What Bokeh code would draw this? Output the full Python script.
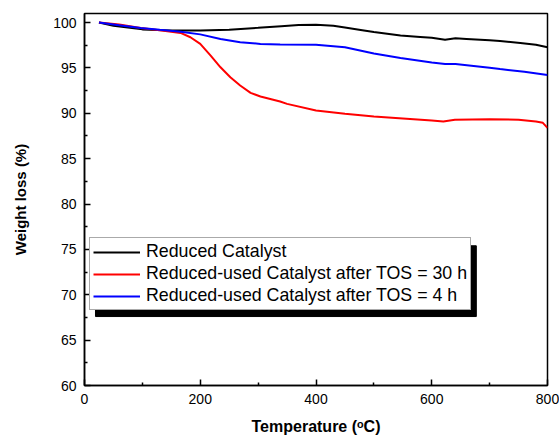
from bokeh.plotting import figure
from bokeh.models import Legend, LegendItem, Range1d, FixedTicker, BoxAnnotation
from bokeh.embed import file_html
from bokeh.resources import INLINE

# Reduced Catalyst
t_black = [25, 50, 100, 150, 200, 250, 270, 300, 340, 370, 400, 430, 450, 480, 500, 546, 580, 600, 623, 641, 660, 700, 718, 753, 780, 800]
w_black = [100, 99.65, 99.25, 99.12, 99.12, 99.22, 99.3, 99.42, 99.6, 99.72, 99.75, 99.65, 99.45, 99.15, 98.95, 98.57, 98.42, 98.33, 98.1, 98.26, 98.2, 98.05, 97.96, 97.74, 97.55, 97.28]

# Reduced-used Catalyst after TOS = 30 h
t_red = [25, 60, 97, 130, 166, 183, 200, 218, 235, 252, 269, 287, 304, 338, 350, 400, 450, 500, 550, 600, 620, 640, 700, 750, 780, 792, 800]
w_red = [100, 99.8, 99.4, 99.15, 98.86, 98.38, 97.65, 96.36, 95.07, 93.97, 93.06, 92.25, 91.85, 91.3, 91.04, 90.3, 89.94, 89.64, 89.42, 89.2, 89.1, 89.3, 89.35, 89.3, 89.1, 88.95, 88.4]

# Reduced-used Catalyst after TOS = 4 h
t_blue = [25, 60, 97, 130, 166, 200, 235, 269, 304, 338, 400, 450, 500, 546, 600, 623, 641, 700, 718, 760, 800]
w_blue = [100, 99.7, 99.4, 99.2, 99.0, 98.7, 98.2, 97.84, 97.65, 97.58, 97.55, 97.28, 96.6, 96.1, 95.6, 95.44, 95.44, 95.02, 94.88, 94.58, 94.22]

labels = ["Reduced Catalyst",
          "Reduced-used Catalyst after TOS = 30 h",
          "Reduced-used Catalyst after TOS = 4 h"]
colors = ["black", "red", "blue"]

x_ticks = [0, 200, 400, 600, 800]
x_minor = [100, 300, 500, 700]
y_ticks = [60, 65, 70, 75, 80, 85, 90, 95, 100]
y_minor = [62.5, 67.5, 72.5, 77.5, 82.5, 87.5, 92.5, 97.5]

FONT = "Liberation Sans"

p = figure(width=559, height=440, output_backend="svg", toolbar_location=None,
           x_range=Range1d(0, 800), y_range=Range1d(60, 101),
           min_border_left=84, min_border_right=12, min_border_top=13, min_border_bottom=55)
p.background_fill_color = "white"
p.border_fill_color = "white"
p.grid.visible = False
p.outline_line_color = "black"
p.outline_line_width = 1.5

series = [(t_black, w_black), (t_red, w_red), (t_blue, w_blue)]
renderers = []
for (t, w), c in zip(series, colors):
    r = p.line(t, w, line_color=c, line_width=2)
    renderers.append(r)

for ax in (p.xaxis[0], p.yaxis[0]):
    ax.axis_line_color = "black"
    ax.axis_line_width = 1.5
    ax.major_tick_in = 6
    ax.major_tick_out = 0
    ax.minor_tick_in = 3
    ax.minor_tick_out = 0
    ax.major_tick_line_width = 1.5
    ax.minor_tick_line_width = 1.5
    ax.major_label_text_font = FONT
    ax.major_label_text_font_size = "14px"
    ax.major_label_text_color = "black"
    ax.axis_label_text_font = FONT
    ax.axis_label_text_font_style = "bold"
    ax.axis_label_text_color = "black"

p.xaxis.axis_label_text_font_size = "16px"
p.yaxis.axis_label_text_font_size = "15px"
p.xaxis.ticker = FixedTicker(ticks=x_ticks, minor_ticks=x_minor)
p.yaxis.ticker = FixedTicker(ticks=y_ticks, minor_ticks=y_minor)
p.xaxis.axis_label = "Temperature (\u1d52C)"
p.yaxis.axis_label = "Weight loss (%)"
p.xaxis.major_label_standoff = 8
p.yaxis.major_label_standoff = 8
p.xaxis.axis_label_standoff = 11
p.yaxis.axis_label_standoff = 21

# legend drop shadow
shadow = BoxAnnotation(left=19, right=677, bottom=67.6, top=75.4,
                       fill_color="black", fill_alpha=1.0, line_color="black", line_alpha=1.0)
p.add_layout(shadow)

legend = Legend(items=[LegendItem(label=l, renderers=[r]) for l, r in zip(labels, renderers)],
                location=(5, 75), orientation="vertical")
legend.label_text_font = FONT
legend.label_text_font_size = "17.8px"
legend.label_text_color = "black"
legend.label_height = 18
legend.glyph_height = 18
legend.glyph_width = 47
legend.label_standoff = 6
legend.spacing = 1
legend.padding = 3
legend.margin = 0
legend.background_fill_color = "white"
legend.background_fill_alpha = 1.0
legend.border_line_color = "#555555"
legend.border_line_width = 1
p.add_layout(legend, "center")

open("out.html", "w").write(file_html(p, INLINE))
